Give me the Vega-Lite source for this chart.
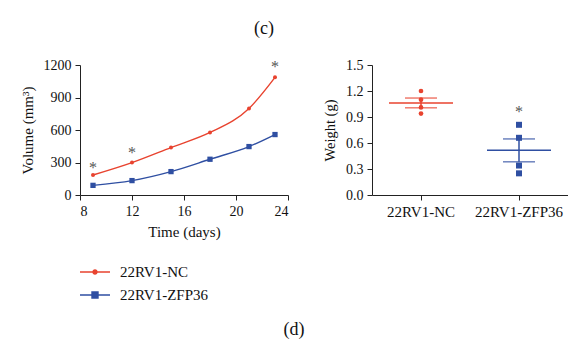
{
  "$schema": "https://vega.github.io/schema/vega-lite/v6.json",
  "padding": {"left": 20, "top": 20, "right": 0, "bottom": 0},
  "background": "white",
  "config": {
    "view": {"stroke": null},
    "font": "Liberation Serif",
    "axis": {
      "grid": false,
      "domainColor": "#222",
      "tickColor": "#222",
      "labelColor": "#111",
      "titleColor": "#111",
      "tickSize": 5,
      "labelPadding": 4,
      "labelOverlap": false,
      "labelFont": "Liberation Serif",
      "titleFont": "Liberation Serif",
      "labelFontSize": 14,
      "titleFontSize": 15,
      "titleFontWeight": "normal"
    },
    "title": {"font": "Liberation Serif", "fontWeight": "normal", "color": "#111"}
  },
  "datasets": {
    "volume": [
      {"day": 9, "volume": 185, "group": "22RV1-NC"},
      {"day": 12, "volume": 299, "group": "22RV1-NC"},
      {"day": 15, "volume": 438, "group": "22RV1-NC"},
      {"day": 18, "volume": 577, "group": "22RV1-NC"},
      {"day": 21, "volume": 799, "group": "22RV1-NC"},
      {"day": 23, "volume": 1086, "group": "22RV1-NC"},
      {"day": 9, "volume": 89, "group": "22RV1-ZFP36"},
      {"day": 12, "volume": 133, "group": "22RV1-ZFP36"},
      {"day": 15, "volume": 216, "group": "22RV1-ZFP36"},
      {"day": 18, "volume": 330, "group": "22RV1-ZFP36"},
      {"day": 21, "volume": 447, "group": "22RV1-ZFP36"},
      {"day": 23, "volume": 558, "group": "22RV1-ZFP36"}
    ],
    "volumeStars": [
      {"day": 9, "volume": 280, "label": "*"},
      {"day": 12, "volume": 420, "label": "*"},
      {"day": 23, "volume": 1205, "label": "*"}
    ],
    "weight": [
      {"group": "22RV1-NC", "weight": 1.20},
      {"group": "22RV1-NC", "weight": 1.10},
      {"group": "22RV1-NC", "weight": 1.01},
      {"group": "22RV1-NC", "weight": 0.94},
      {"group": "22RV1-ZFP36", "weight": 0.81},
      {"group": "22RV1-ZFP36", "weight": 0.66},
      {"group": "22RV1-ZFP36", "weight": 0.34},
      {"group": "22RV1-ZFP36", "weight": 0.25}
    ],
    "weightStars": [
      {"group": "22RV1-ZFP36", "weight": 0.99, "label": "*"}
    ]
  },
  "title": {"text": "(c)", "fontSize": 18, "anchor": "middle", "dx": -30, "offset": 20},
  "vconcat": [
    {
      "title": {"text": "(d)", "orient": "bottom", "fontSize": 18, "anchor": "middle", "offset": 18},
      "spacing": 33,
      "resolve": {"legend": {"color": "independent"}},
      "hconcat": [
        {
          "width": 208,
          "height": 130,
          "encoding": {
            "x": {"field": "day", "type": "quantitative",
                  "scale": {"domain": [8, 24], "nice": false},
                  "axis": {"values": [8, 12, 16, 20, 24], "title": "Time (days)", "titlePadding": 6, "labelOverlap": false}},
            "y": {"field": "volume", "type": "quantitative",
                  "scale": {"domain": [0, 1200], "nice": false},
                  "axis": {"values": [0, 300, 600, 900, 1200], "format": "d", "title": "Volume (mm³)", "titlePadding": 8, "labelOverlap": false}}
          },
          "layer": [
            {
              "data": {"name": "volume"},
              "mark": {"type": "line", "interpolate": "monotone", "strokeWidth": 1.4},
              "encoding": {
                "color": {"field": "group", "type": "nominal",
                          "scale": {"domain": ["22RV1-NC", "22RV1-ZFP36"], "range": ["#e8432f", "#2f4fa2"]},
                          "legend": {
                            "orient": "none", "legendX": 5, "legendY": 197,
                            "title": null, "symbolSize": 400, "labelFontSize": 15,
                            "labelFont": "Liberation Serif", "labelColor": "#111",
                            "labelOffset": 15, "rowPadding": 5,
                            "encode": {
                              "symbols": {
                                "update": {
                                  "shape": {"signal": "datum.value === '22RV1-NC' ? 'M-1.5,-0.07H1.5V0.07H-1.5Z M0.27,0A0.27,0.27,0,1,1,-0.27,0A0.27,0.27,0,1,1,0.27,0Z' : 'M-1.5,-0.07H1.5V0.07H-1.5Z M-0.37,-0.37H0.37V0.37H-0.37Z'"},
                                  "fill": {"scale": "color", "field": "value"},
                                  "fillOpacity": {"value": 1},
                                  "strokeWidth": {"value": 0}
                                }
                              }
                            }
                          }}
              }
            },
            {
              "data": {"name": "volume"},
              "transform": [{"filter": "datum.group === '22RV1-NC'"}],
              "mark": {"type": "circle", "size": 16, "opacity": 1},
              "encoding": {
                "color": {"field": "group", "type": "nominal"}
              }
            },
            {
              "data": {"name": "volume"},
              "transform": [{"filter": "datum.group === '22RV1-ZFP36'"}],
              "mark": {"type": "square", "size": 28, "opacity": 1},
              "encoding": {
                "color": {"field": "group", "type": "nominal"}
              }
            },
            {
              "data": {"name": "volumeStars"},
              "mark": {"type": "text", "fontSize": 16, "fill": "#555", "baseline": "middle", "dy": 3},
              "encoding": {
                "text": {"field": "label"}
              }
            }
          ]
        },
        {
          "width": 196,
          "height": 130,
          "encoding": {
            "x": {"field": "group", "type": "nominal",
                  "scale": {"domain": ["22RV1-NC", "22RV1-ZFP36"], "paddingInner": 0, "paddingOuter": 0},
                  "axis": {"title": null, "labelAngle": 0, "labelFontSize": 15, "bandPosition": 0.5}},
            "y": {"field": "weight", "type": "quantitative",
                  "scale": {"domain": [0, 1.5], "nice": false},
                  "axis": {"values": [0, 0.3, 0.6, 0.9, 1.2, 1.5], "format": ".1f", "title": "Weight (g)", "titleFontSize": 14.5, "titlePadding": 8, "labelOverlap": false}}
          },
          "layer": [
            {
              "data": {"name": "weight"},
              "mark": {"type": "errorbar", "extent": "stderr",
                       "ticks": {"size": 32, "thickness": 1.5},
                       "rule": {"strokeWidth": 1.5}},
              "encoding": {
                "color": {"field": "group", "type": "nominal",
                          "scale": {"domain": ["22RV1-NC", "22RV1-ZFP36"], "range": ["#e8432f", "#2f4fa2"]},
                          "legend": null}
              }
            },
            {
              "data": {"name": "weight"},
              "mark": {"type": "tick", "size": 64, "thickness": 1.5, "opacity": 1},
              "encoding": {
                "y": {"aggregate": "mean", "field": "weight", "type": "quantitative"},
                "color": {"field": "group", "type": "nominal", "legend": null}
              }
            },
            {
              "data": {"name": "weight"},
              "transform": [{"filter": "datum.group === '22RV1-NC'"}],
              "mark": {"type": "circle", "size": 22, "opacity": 1},
              "encoding": {
                "color": {"field": "group", "type": "nominal", "legend": null}
              }
            },
            {
              "data": {"name": "weight"},
              "transform": [{"filter": "datum.group === '22RV1-ZFP36'"}],
              "mark": {"type": "square", "size": 36, "opacity": 1},
              "encoding": {
                "color": {"field": "group", "type": "nominal", "legend": null}
              }
            },
            {
              "data": {"name": "weightStars"},
              "mark": {"type": "text", "fontSize": 16, "fill": "#555", "baseline": "middle", "dy": 3},
              "encoding": {
                "text": {"field": "label"}
              }
            }
          ]
        }
      ]
    }
  ]
}
